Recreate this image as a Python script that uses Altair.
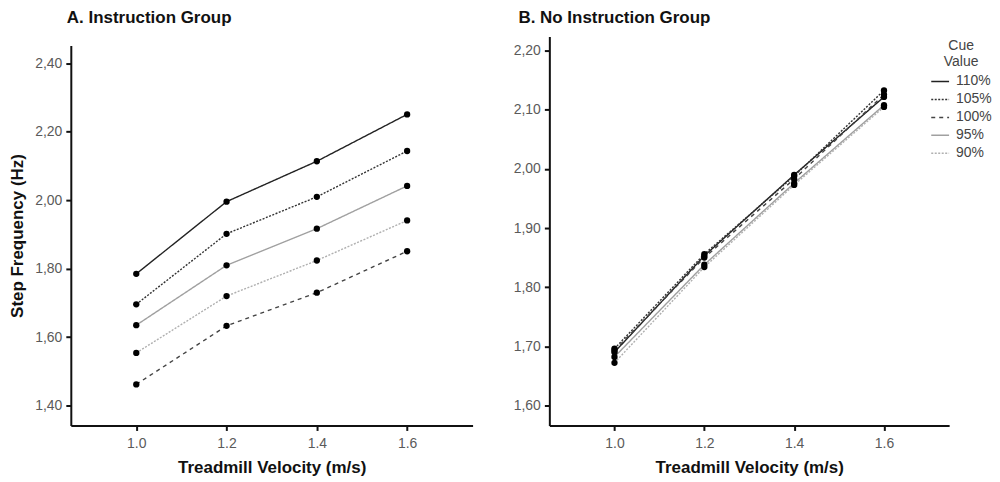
import altair as alt
import pandas as pd

velocity = [1.0, 1.2, 1.4, 1.6]
cues = ["110%", "105%", "100%", "95%", "90%"]

# Panel A: Instruction Group
a_values = {
    "110%": [1.785, 1.996, 2.114, 2.251],
    "105%": [1.696, 1.902, 2.010, 2.144],
    "95%": [1.635, 1.810, 1.917, 2.042],
    "90%": [1.554, 1.720, 1.824, 1.941],
    "100%": [1.462, 1.633, 1.730, 1.851],
}
# Panel B: No Instruction Group
b_values = {
    "110%": [1.690, 1.853, 1.990, 2.122],
    "105%": [1.696, 1.856, 1.988, 2.133],
    "100%": [1.693, 1.850, 1.983, 2.126],
    "95%": [1.682, 1.838, 1.976, 2.108],
    "90%": [1.672, 1.834, 1.973, 2.105],
}

a_ticks = [1.4, 1.6, 1.8, 2.0, 2.2, 2.4]
b_ticks = [1.6, 1.7, 1.8, 1.9, 2.0, 2.1, 2.2]

cue_colors = ["#222222", "#333333", "#444444", "#a0a0a0", "#b0b0b0"]
cue_dashes = [[1, 0], [2, 1.5], [4, 4], [1, 0], [2, 1.5]]

FONT = "Liberation Sans"
PLOT_H = 390


def make_df(values):
    rows = []
    for cue in cues:
        for v, f in zip(velocity, values[cue]):
            rows.append({"velocity": v, "freq": f, "cue": cue})
    return pd.DataFrame(rows)


df_a = make_df(a_values)
df_b = make_df(b_values)

x_enc = alt.X(
    "velocity:Q",
    scale=alt.Scale(domain=[0.855, 1.745], nice=False, zero=False),
    axis=alt.Axis(values=velocity, format=".1f", title="Treadmill Velocity (m/s)",
                  labelPadding=6, titlePadding=9),
)

legend = alt.Legend(
    title=["Cue", "Value"],
    orient="none",
    legendX=862,
    legendY=2,
    padding=0,
    titleAnchor="middle",
    titleAlign="center",
    titleFontWeight="normal",
    titleFontSize=14,
    titleColor="#444444",
    titleFont=FONT,
    labelFont=FONT,
    labelFontSize=14,
    labelColor="#444444",
    symbolType="stroke",
    symbolSize=320,
    symbolStrokeWidth=1.5,
    rowPadding=1,
    labelOffset=6,
    titlePadding=3,
)


def panel(df, title, ticks, domain, yrange, width, ytitle, title_dx):
    if ytitle:
        y_axis = alt.Axis(
            values=ticks,
            labelExpr="replace(format(datum.value, '.2f'), '.', ',')",
            title=ytitle,
            labelPadding=4,
            titlePadding=8,
        )
    else:
        y_axis = alt.Axis(
            values=ticks,
            labelExpr="replace(format(datum.value, '.2f'), '.', ',')",
            title=None,
            labelPadding=4,
        )
    y_enc = alt.Y("freq:Q", scale=alt.Scale(domain=domain, range=yrange, nice=False, zero=False),
                  axis=y_axis)
    lines = alt.Chart(df).mark_line(strokeWidth=1.4).encode(
        x=x_enc,
        y=y_enc,
        color=alt.Color("cue:N", scale=alt.Scale(domain=cues, range=cue_colors), legend=legend),
        strokeDash=alt.StrokeDash("cue:N", scale=alt.Scale(domain=cues, range=cue_dashes), legend=legend),
        detail="cue:N",
    )
    points = alt.Chart(df).mark_circle(size=40, color="#000000", opacity=1).encode(
        x=x_enc, y=y_enc
    )
    return alt.layer(lines, points).properties(
        width=width,
        height=PLOT_H,
        title=alt.TitleParams(title, anchor="start", frame="group", offset=10, dx=title_dx,
                              fontSize=17, font=FONT, fontWeight="bold", color="#111111"),
    )


pa = panel(df_a, "A. Instruction Group", a_ticks, [1.342, 2.452], [PLOT_H, 9], 403,
           "Step Frequency (Hz)", -4)
pb = panel(df_b, "B. No Instruction Group", b_ticks, [1.566, 2.224], [PLOT_H, 0], 401,
           None, -31)

chart = alt.hconcat(pa, pb, spacing=40).properties(
    padding={"left": 0, "top": 0, "right": 0, "bottom": 0}
).configure_view(stroke=None).configure_axis(
    grid=False,
    domainColor="#111111",
    domainWidth=2,
    tickColor="#111111",
    tickWidth=2,
    tickSize=5,
    labelColor="#5a5a5a",
    labelFont=FONT,
    labelFontSize=14,
    titleFont=FONT,
    titleFontSize=17,
    titleFontWeight="bold",
    titleColor="#111111",
).configure_title(baseline="alphabetic")

chart.save("out.html", embed_options={"renderer": "svg", "actions": False})
